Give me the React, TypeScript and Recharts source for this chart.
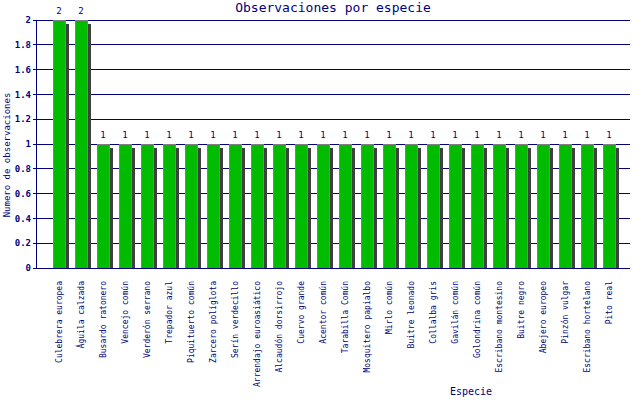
import { BarChart, Bar, XAxis, YAxis, CartesianGrid, LabelList } from "recharts";

const species = [
  "Culebrera europea",
  "Águila calzada",
  "Busardo ratonero",
  "Vencejo común",
  "Verderón serrano",
  "Trepador azul",
  "Piquituerto común",
  "Zarcero políglota",
  "Serín verdecillo",
  "Arrendajo euroasiático",
  "Alcaudón dorsirrojo",
  "Cuervo grande",
  "Acentor común",
  "Tarabilla Común",
  "Mosquitero papialbo",
  "Mirlo común",
  "Buitre leonado",
  "Collalba gris",
  "Gavilán común",
  "Golondrina común",
  "Escribano montesino",
  "Buitre negro",
  "Abejero europeo",
  "Pinzón vulgar",
  "Escribano hortelano",
  "Pito real",
];

const counts = [2, 2, 1, 1, 1, 1, 1, 1, 1, 1, 1, 1, 1, 1, 1, 1, 1, 1, 1, 1, 1, 1, 1, 1, 1, 1];

const yTicks = [0, 0.2, 0.4, 0.6, 0.8, 1, 1.2, 1.4, 1.6, 1.8, 2];

const NAVY = "#000080";
const FONT = "'DejaVu Sans Mono', monospace";

const data = species.map((name, i) => ({ name, value: counts[i] }));

// bar with a dark drop shadow offset to the lower right
const ShadowBar = (props: any) => {
  const { x, y, width, height } = props;
  if (!height || height <= 0) return null;
  return (
    <g shapeRendering="crispEdges">
      <rect x={x + 4} y={y + 4} width={width} height={height - 4} fill="#404040" />
      <rect
        x={x}
        y={y}
        width={width}
        height={height}
        fill="#00bb00"
        stroke="#808080"
        strokeWidth={1}
      />
    </g>
  );
};

const SpeciesTick = (props: any) => {
  const { x, y, payload } = props;
  return (
    <text
      transform={`translate(${x + 3},${y + 5}) rotate(-90)`}
      textAnchor="end"
      fill={NAVY}
      fontFamily={FONT}
      fontSize={8}
    >
      {payload.value}
    </text>
  );
};

export default function App() {
  return (
    <div style={{ position: "relative", width: 640, height: 400, background: "#fff" }}>
      <style>{"body{margin:0} .recharts-cartesian-grid line, .recharts-cartesian-axis-line, .recharts-cartesian-axis-tick-line{shape-rendering:crispEdges}"}</style>
      <div
        style={{
          position: "absolute",
          left: 36,
          width: 594,
          top: 0,
          textAlign: "center",
          fontFamily: FONT,
          fontSize: 13,
          color: NAVY,
        }}
      >
        Observaciones por especie
      </div>
      <div
        style={{
          position: "absolute",
          left: 450,
          top: 386,
          fontFamily: FONT,
          fontSize: 10,
          color: NAVY,
        }}
      >
        Especie
      </div>
      <div
        style={{
          position: "absolute",
          left: 7,
          top: 155,
          transform: "translate(-50%,-50%) rotate(-90deg)",
          whiteSpace: "nowrap",
          fontFamily: FONT,
          fontSize: 9,
          color: NAVY,
        }}
      >
        Numero de observaciones
      </div>
      <div style={{ position: "absolute", left: 0, top: 0 }}>
        <BarChart
          width={640}
          height={400}
          data={data}
          margin={{ top: 20, right: 10, bottom: 0, left: 8 }}
          barCategoryGap={0}
        >
          <CartesianGrid vertical={false} stroke={NAVY} strokeWidth={1} />
          <XAxis
            dataKey="name"
            interval={0}
            height={132}
            padding={{ left: 12, right: 10 }}
            axisLine={{ stroke: NAVY }}
            tickLine={false}
            tick={<SpeciesTick />}
          />
          <YAxis
            width={28}
            domain={[0, 2]}
            ticks={yTicks}
            axisLine={{ stroke: NAVY }}
            tickLine={{ stroke: NAVY }}
            tickSize={3}
            tick={{ fill: NAVY, fontFamily: FONT, fontSize: 9, fontWeight: "bold" }}
          />
          <YAxis
            yAxisId="right"
            orientation="right"
            width={0}
            domain={[0, 2]}
            tick={false}
            tickLine={false}
            axisLine={{ stroke: NAVY }}
          />
          <Bar dataKey="value" barSize={12} shape={<ShadowBar />} isAnimationActive={false}>
            <LabelList
              dataKey="value"
              position="top"
              offset={6}
              fill={NAVY}
              fontFamily={FONT}
              fontSize={9}
            />
          </Bar>
        </BarChart>
      </div>
    </div>
  );
}
